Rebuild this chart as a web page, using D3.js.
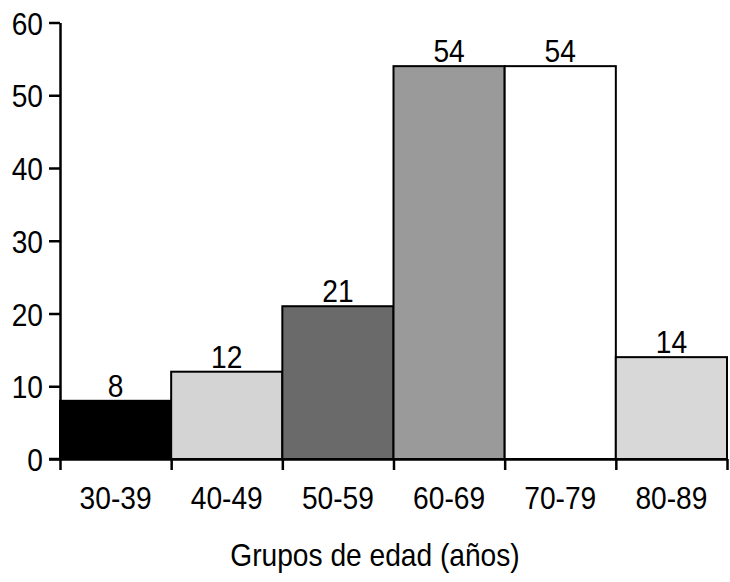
<!DOCTYPE html>
<html><head><meta charset="utf-8">
<script src="https://cdn.jsdelivr.net/npm/d3@7"></script>
<style>
html,body{margin:0;padding:0;background:#fff;}
text{font-family:"Liberation Sans",Arial,Helvetica,sans-serif;fill:#000;}
</style></head>
<body>
<svg id="chart" width="730" height="582"></svg>
<script>
const categories = ["30-39","40-49","50-59","60-69","70-79","80-89"];
const values = [8, 12, 21, 54, 54, 14];
const colors = ["#000000","#d4d4d4","#6a6a6a","#9a9a9a","#ffffff","#d8d8d8"];
const yTicks = [0,10,20,30,40,50,60];
const xTitle = "Grupos de edad (años)";

(function(){
const svg = d3.select("#chart");
const mLeft = 60, mRight = 727, mTop = 22.5, mBottom = 459;
const x = d3.scaleBand().domain(categories).range([mLeft, mRight]).padding(0);
const y = d3.scaleLinear().domain([0, 60]).range([mBottom, mTop]);
const fs = 32, sx = 0.88;
const cond = (px, py) => `translate(${px},${py}) scale(${sx},1)`;

// bars
svg.append("g").selectAll("rect").data(categories).join("rect")
  .attr("x", d => x(d)).attr("y", (d,i) => y(values[i]))
  .attr("width", x.bandwidth()).attr("height", (d,i) => y(0) - y(values[i]))
  .attr("fill", (d,i) => colors[i]).attr("stroke", "#000").attr("stroke-width", 2);

// value labels
svg.append("g").selectAll("text").data(categories).join("text")
  .attr("transform", (d,i) => cond(x(d) + x.bandwidth()/2, y(values[i]) - 4))
  .attr("text-anchor", "middle").attr("font-size", fs)
  .text((d,i) => values[i]);

// y axis
const yAxis = svg.append("g").attr("transform", `translate(${mLeft},0)`)
  .call(d3.axisLeft(y).tickValues(yTicks).tickSize(11).tickPadding(6).tickSizeOuter(0));
yAxis.attr("font-family", null).attr("font-size", null);
yAxis.select(".domain").attr("stroke-width", 2.5);
yAxis.selectAll(".tick line").attr("stroke-width", 2.5);
yAxis.selectAll(".tick text").attr("font-size", fs).attr("x", null).attr("dy", "0.36em")
  .attr("transform", cond(-17, 0));

// x axis
const xb = d3.scaleLinear().domain([0, categories.length]).range([mLeft, mRight]);
const xAxis = svg.append("g").attr("transform", `translate(0,${mBottom})`)
  .call(d3.axisBottom(xb).tickValues(d3.range(categories.length + 1)).tickSize(11).tickFormat("").tickSizeOuter(0));
xAxis.select(".domain").attr("stroke-width", 2.5);
xAxis.selectAll(".tick line").attr("stroke-width", 2.5);
svg.append("line").attr("x1", mLeft - 11).attr("x2", mLeft).attr("y1", mBottom).attr("y2", mBottom)
  .attr("stroke", "#000").attr("stroke-width", 2.5);

// category labels
svg.append("g").selectAll("text").data(categories).join("text")
  .attr("transform", d => cond(x(d) + x.bandwidth()/2, 509))
  .attr("text-anchor", "middle").attr("font-size", fs).text(d => d);

// title
svg.append("text").attr("transform", cond(375, 566)).attr("text-anchor", "middle")
  .attr("font-size", fs).text(xTitle);
})();
</script>
</body></html>
